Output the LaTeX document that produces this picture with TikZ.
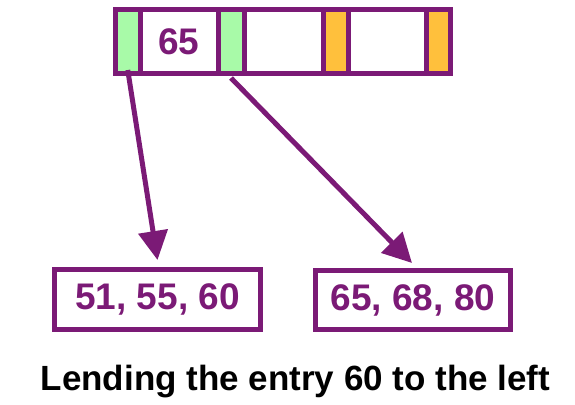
\documentclass[tikz,border=0pt]{standalone}
\usepackage{fontspec}
\setmainfont{Liberation Sans}
\usetikzlibrary{arrows.meta}
\definecolor{purp}{RGB}{123,26,118}
\definecolor{lgreen}{RGB}{168,250,168}
\definecolor{lorange}{RGB}{255,192,60}
\begin{document}
\begin{tikzpicture}[x=1pt,y=-1pt,
  cell/.style={draw=purp, line width=5pt, rectangle, minimum height=64pt, inner sep=0pt, fill=white},
  leaf/.style={draw=purp, line width=5pt, rectangle, inner sep=0pt, fill=white,
    text=purp, font=\fontsize{37}{40}\selectfont\bfseries},
  ptr/.style={draw=purp, line width=5pt, -{Triangle[length=29pt,width=29pt]}},
  caption/.style={font=\fontsize{35}{38}\selectfont\bfseries, text=black, inner sep=0pt}
]
\useasboundingbox (0,0) rectangle (575,404);
\node[cell, fill=lgreen, minimum width=24.5pt] (c1) at (127.75,41.5) {};
\node[cell, minimum width=78pt, text=purp, font=\fontsize{37}{40}\selectfont\bfseries] (c2) at (179,41.5) {65};
\node[cell, fill=lgreen, minimum width=26pt] (c3) at (231,41.5) {};
\node[cell, minimum width=79pt] (c4) at (283.5,41.5) {};
\node[cell, fill=lorange, minimum width=25pt] (c5) at (335.5,41.5) {};
\node[cell, minimum width=78pt] (c6) at (387,41.5) {};
\node[cell, fill=lorange, minimum width=24.5pt] (c7) at (438.25,41.5) {};
\node[leaf, minimum width=206pt, minimum height=60pt] (L) at (157.5,299.5) {51, 55, 60};
\node[leaf, minimum width=195pt, minimum height=59pt] (R) at (413,300) {65, 68, 80};
\draw[ptr] ([yshift=6pt]c1.south) -- ([yshift=7pt]L.north);
\draw[ptr] ([yshift=-2pt]c3.south) -- ([xshift=-1pt,yshift=5pt]R.north);
\node[caption, anchor=base] (cap) at (295.5,390) {Lending the entry 60 to the left};
\end{tikzpicture}
\end{document}
